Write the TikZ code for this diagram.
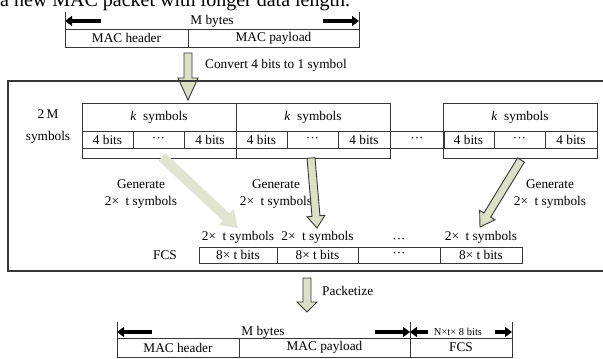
\documentclass[tikz,border=0pt]{standalone}
\usepackage{fontspec}
\setmainfont{Liberation Serif}
\usetikzlibrary{arrows.meta, calc}

\definecolor{arrowfill}{RGB}{220,224,199}
\definecolor{arrowpale}{RGB}{223,229,208}
\definecolor{linegray}{RGB}{55,55,55}

\tikzset{
  cell/.style={draw=linegray, line width=0.9pt, inner sep=0pt, outer sep=0pt, anchor=north west},
  lbl/.style={inner sep=0pt},
  tick/.style={draw=linegray, line width=0.9pt},
  dimarrow/.style={line width=3.2pt, -{Triangle[length=7pt,width=10pt]}},
  fatarrow/.style={fill=arrowfill, draw=linegray, line width=0.9pt, line join=miter},
  palearrow/.style={fill=arrowpale},
  frame/.style={draw=linegray, line width=1.2pt},
}

% hollow block arrow: [style]{from}{to}{half shaft}{half head}{head length}
\newcommand{\blockarrow}[6][fatarrow]{%
  \coordinate (neck) at ($(#3)!#6!(#2)$);
  \path[#1] ($(#2)!#4!90:(#3)$) -- ($(neck)!#4!90:(#3)$) -- ($(neck)!#5!90:(#3)$) -- (#3)
    -- ($(neck)!#5!-90:(#3)$) -- ($(neck)!#4!-90:(#3)$) -- ($(#2)!#4!-90:(#3)$) -- cycle;
}

\begin{document}
\begin{tikzpicture}[x=1pt, y=-1pt, font=\fontsize{13.3}{17}\selectfont]
\useasboundingbox (0,0) rectangle (603,359);

\node[lbl, anchor=base west, font=\fontsize{20}{20}\selectfont] (title) at (0,6) {a new MAC packet with longer data length.};

% original packet
\node[cell, minimum width=123pt, minimum height=18pt] (hdr) at (65,29) {MAC header};
\node[cell, minimum width=171pt, minimum height=18pt] (pay) at (hdr.north east) {MAC payload};
\draw[tick] (hdr.north west) -- ++(0,-17);
\draw[tick] (pay.north east) -- ++(0,-17);
\coordinate (mbl) at (101,21);
\coordinate (mbr) at (323,21);
\draw[dimarrow] (mbl) -- (hdr.north west |- mbl);
\draw[dimarrow] (mbr) -- (pay.north east |- mbr);
\node[lbl] (mb) at (212,21) {M bytes};

\coordinate (cv-s) at (188,53);
\coordinate (cv-e) at (188,100);
\blockarrow{cv-s}{cv-e}{4pt}{10pt}{22pt}
\node[lbl, anchor=west] (cvl) at (205,65) {Convert 4 bits to 1 symbol};

\draw[frame] (8,81) rectangle (640,271);

% symbol blocks
\node[lbl, align=center] (twom) at (48,127) {2\,M\\[5pt]symbols};
\foreach \x/\b in {82/a, 236/b, 443/c}{
  \node[cell, minimum width=154pt, minimum height=28pt] (ks-\b) at (\x,103) {\textit{k}\enspace symbols};
  \node[cell, minimum width=51pt, minimum height=17pt] (b1-\b) at (ks-\b.south west) {4 bits};
  \node[cell, minimum width=51pt, minimum height=17pt] (b2-\b) at (b1-\b.north east) {···};
  \node[cell, minimum width=52pt, minimum height=17pt] (b3-\b) at (b2-\b.north east) {4 bits};
  \node[cell, minimum width=154pt, minimum height=10pt] (pad-\b) at (b1-\b.south west) {};
}
\node[cell, minimum width=54pt, minimum height=17pt] (gap) at (b3-b.north east) {···};

\node[lbl, align=center] (gen-a) at (141,194) {Generate\\2×~~t symbols};
\node[lbl, align=center] (gen-b) at (276,194) {Generate\\2×~~t symbols};
\node[lbl, align=center] (gen-c) at (550,194) {Generate\\2×~~t symbols};

% FCS row
\node[lbl] (fcsl) at (165,255) {FCS};
\node[cell, minimum width=78pt, minimum height=16pt] (f1) at (199,247) {8× t bits};
\node[cell, minimum width=81pt, minimum height=16pt] (f2) at (f1.north east) {8× t bits};
\node[cell, minimum width=82pt, minimum height=16pt] (f3) at (f2.north east) {···};
\node[cell, minimum width=82pt, minimum height=16pt] (f4) at (f3.north east) {8× t bits};
\foreach \f/\t in {f1/2×~~t symbols, f2/2×~~t symbols, f3/···, f4/2×~~t symbols}
  \node[lbl, anchor=south] (t-\f) at ([yshift=3pt]\f.north) {\t};

\coordinate (g1-s) at (162,157);
\coordinate (g1-e) at (238,228);
\coordinate (g2-s) at (311,158);
\coordinate (g2-e) at (317,228);
\coordinate (g3-s) at (521,160);
\coordinate (g3-e) at (480,227);
\blockarrow[palearrow]{g1-s}{g1-e}{5pt}{11pt}{16pt}
\blockarrow{g2-s}{g2-e}{4pt}{9pt}{12pt}
\blockarrow{g3-s}{g3-e}{4pt}{9pt}{14pt}

% new packet
\coordinate (pk-s) at (307,278);
\coordinate (pk-e) at (307,312);
\blockarrow{pk-s}{pk-e}{4pt}{10pt}{10pt}
\node[lbl, anchor=west] (pkl) at (322,291) {Packetize};

\node[cell, minimum width=122pt, minimum height=19pt] (hdr2) at (117,338) {MAC header};
\node[cell, minimum width=171pt, minimum height=19pt] (pay2) at (hdr2.north east) {MAC payload};
\node[cell, minimum width=102pt, minimum height=19pt] (fcs2) at (pay2.north east) {FCS};
\foreach \n in {hdr2.north west, pay2.north east, fcs2.north east}
  \draw[tick] (\n) -- ++(0,-16);
\coordinate (ml) at (152,332);
\coordinate (mr) at (375,332);
\coordinate (nl) at (428,332);
\coordinate (nr) at (495,332);
\draw[dimarrow] (ml) -- (hdr2.north west |- ml);
\draw[dimarrow] (mr) -- (pay2.north east |- mr);
\draw[dimarrow] (nl) -- (pay2.north east |- nl);
\draw[dimarrow] (nr) -- (fcs2.north east |- nr);
\node[lbl] (mb2) at (263,332) {M bytes};
\node[lbl, font=\fontsize{10.5}{12}\selectfont] (nb) at (458,332) {N×t×~8 bits};
\end{tikzpicture}
\end{document}
